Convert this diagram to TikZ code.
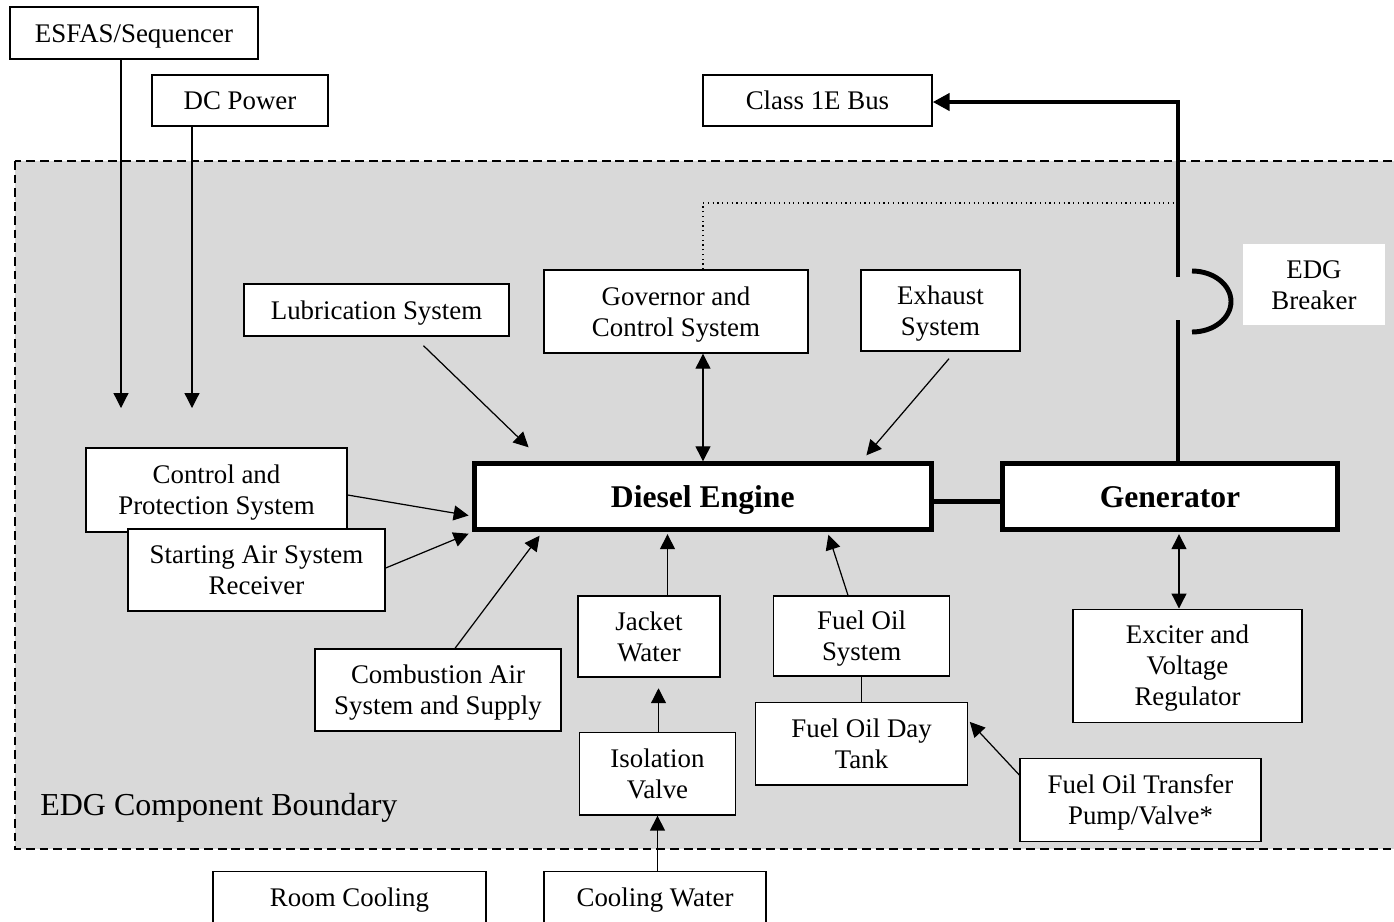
\documentclass[tikz,border=0pt]{standalone}
\usepackage{fontspec}
\setmainfont{Liberation Serif}
\usetikzlibrary{arrows.meta}
\newcommand\lnstrut{\rule{0pt}{0.891em}}
\begin{document}
\begin{tikzpicture}[x=0.02cm,y=-0.02cm,
  sys node/.style={draw,fill=white,line width=0.8pt,align=center,inner sep=0pt,
    font=\fontsize{15.3}{17.6}\selectfont,
    execute at begin node={\lnstrut},
    execute at end node={\rule[-0.216em]{0pt}{0pt}}},
  main node/.style={sys node,line width=2.8pt,font=\fontsize{18}{21}\selectfont\bfseries},
  arr/.style={line width=0.7pt,-{Triangle[length=8.5pt,width=8.5pt]}},
  darr/.style={line width=0.7pt,{Triangle[length=8.5pt,width=8.5pt]}-{Triangle[length=8.5pt,width=8.5pt]}},
  busline/.style={line width=2.8pt}]
  \useasboundingbox (0,0) rectangle (1394,921);

  \draw[fill=gray!30,line width=0.7pt,dash pattern=on 5pt off 2.8pt] (15,161) rectangle (1420,849);
  \node[anchor=west,inner sep=0pt,font=\fontsize{18.2}{21}\selectfont] (bdlabel) at (40,808) {EDG Component Boundary};

  \node[sys node,minimum width=4.96cm,minimum height=1.04cm] (esfas) at (134,33) {ESFAS/Sequencer};
  \node[sys node,minimum width=3.52cm,minimum height=1.02cm] (dc) at (240,100.5) {DC Power};
  \node[sys node,minimum width=4.58cm,minimum height=1.02cm] (bus) at (817.5,100.5) {Class 1E Bus};
  \node[sys node,minimum width=5.30cm,minimum height=1.04cm] (lub) at (376.5,310) {Lubrication System};
  \node[sys node,minimum width=5.28cm,minimum height=1.66cm] (gov) at (676,311.5) {\lnstrut Governor and\\Control System};
  \node[sys node,minimum width=3.18cm,minimum height=1.62cm] (exh) at (940.5,310.5) {\lnstrut Exhaust\\System};
  \node[sys node,draw=none,minimum width=2.84cm,minimum height=1.62cm] (brk) at (1314,284.5) {\lnstrut EDG\\Breaker};
  \node[main node,minimum width=9.15cm,minimum height=1.31cm] (eng) at (702.75,496.5) {Diesel Engine};
  \node[main node,minimum width=6.70cm,minimum height=1.31cm] (gen) at (1170,496.5) {Generator};
  \node[sys node,minimum width=5.22cm,minimum height=1.68cm] (ctrl) at (216.5,490) {\lnstrut Control and\\Protection System};
  \node[sys node,minimum width=5.14cm,minimum height=1.64cm] (start) at (256.5,570) {\lnstrut Starting Air System\\Receiver};
  \node[sys node,minimum width=4.92cm,minimum height=1.64cm] (comb) at (438,690) {\lnstrut Combustion Air\\System and Supply};
  \node[sys node,minimum width=2.84cm,minimum height=1.62cm] (jacket) at (649,636.5) {\lnstrut Jacket\\Water};
  \node[sys node,minimum width=3.11cm,minimum height=1.65cm] (iso) at (657.5,773.7) {\lnstrut Isolation\\Valve};
  \node[sys node,minimum width=3.52cm,minimum height=1.60cm] (fos) at (861.6,636) {\lnstrut Fuel Oil\\System};
  \node[sys node,minimum width=4.24cm,minimum height=1.65cm] (fdt) at (861.6,743.8) {\lnstrut Fuel Oil Day\\Tank};
  \node[sys node,minimum width=4.82cm,minimum height=1.67cm] (fotp) at (1140.5,800) {\lnstrut Fuel Oil Transfer\\Pump/Valve*};
  \node[sys node,minimum width=4.58cm,minimum height=2.26cm] (exc) at (1187.5,665.7) {\lnstrut Exciter and\\Voltage\\Regulator};
  \node[sys node,minimum width=5.46cm,minimum height=1.04cm] (room) at (349.5,897.7) {Room Cooling};
  \node[sys node,minimum width=4.44cm,minimum height=1.04cm] (cool) at (655,897.7) {Cooling Water};

  \coordinate (esfasend) at (121,408);
  \coordinate (dcend) at (192,408);
  \coordinate (dotc) at (1178,203);
  \coordinate (brklo) at (1178,320);
  \coordinate (brkhi) at (1178,277);

  \draw[arr] (esfas.south -| esfasend) -- (esfasend);
  \draw[arr] (dc.south -| dcend) -- (dcend);
  \draw[arr] ([shift={(47,9)}]lub.south) -- ([shift={(57,-14)}]eng.north west);
  \draw[darr] ([shift={(27,0)}]gov.south) -- ([shift={(27,0)}]gov.south |- eng.north);
  \draw[arr] ([shift={(8.5,7)}]exh.south) -- ([shift={(-67.5,-6)}]eng.north east);
  \draw[arr] ([shift={(0,5)}]ctrl.east) -- ([shift={(-3,19)}]eng.west);
  \draw[arr] ([shift={(0,-2)}]start.east) -- ([shift={(-3,2)}]eng.south west);
  \draw[arr] ([shift={(17,0)}]comb.north) -- ([shift={(68,4)}]eng.south west);
  \draw[arr,shorten >=1.4pt] ([shift={(18.5,0)}]jacket.north) -- ([shift={(18.5,0)}]jacket.north |- eng.south);
  \draw[arr,shorten >=6pt] ([shift={(1,0)}]iso.north) -- ([shift={(1,0)}]iso.north |- jacket.south);
  \draw[arr] (cool.north -| iso.south) -- (iso.south);
  \draw[arr] ([shift={(-13.6,0)}]fos.north) -- ([shift={(-105.5,3)}]eng.south east);
  \draw[line width=0.7pt] (fos.south) -- (fdt.north);
  \draw[arr] ([shift={(0,-25)}]fotp.west) -- ([shift={(1.5,20)}]fdt.north east);
  \draw[darr,shorten <=1.4pt] ([shift={(9,0)}]gen.south) -- ([shift={(9,0)}]gen.south |- exc.north);

  \draw[dotted,line width=0.7pt] ([shift={(27,0)}]gov.north) -- ([shift={(27,0)}]gov.north |- dotc) -- (dotc);
  \draw[busline] ([shift={(0,5)}]eng.east) -- ([shift={(0,5)}]eng.east -| gen.west);
  \draw[busline] ([shift={(8,0)}]gen.north) -- (brklo);
  \draw[busline,-{Triangle[length=9.6pt,width=9.6pt]}] (brkhi) -- ([shift={(0,1.5)}]brkhi |- bus.east) -- ([shift={(0,1.5)}]bus.east);
  \draw[busline] (1192,271) arc[start angle=90,end angle=-90,x radius=0.78cm,y radius=0.61cm];
\end{tikzpicture}
\end{document}
